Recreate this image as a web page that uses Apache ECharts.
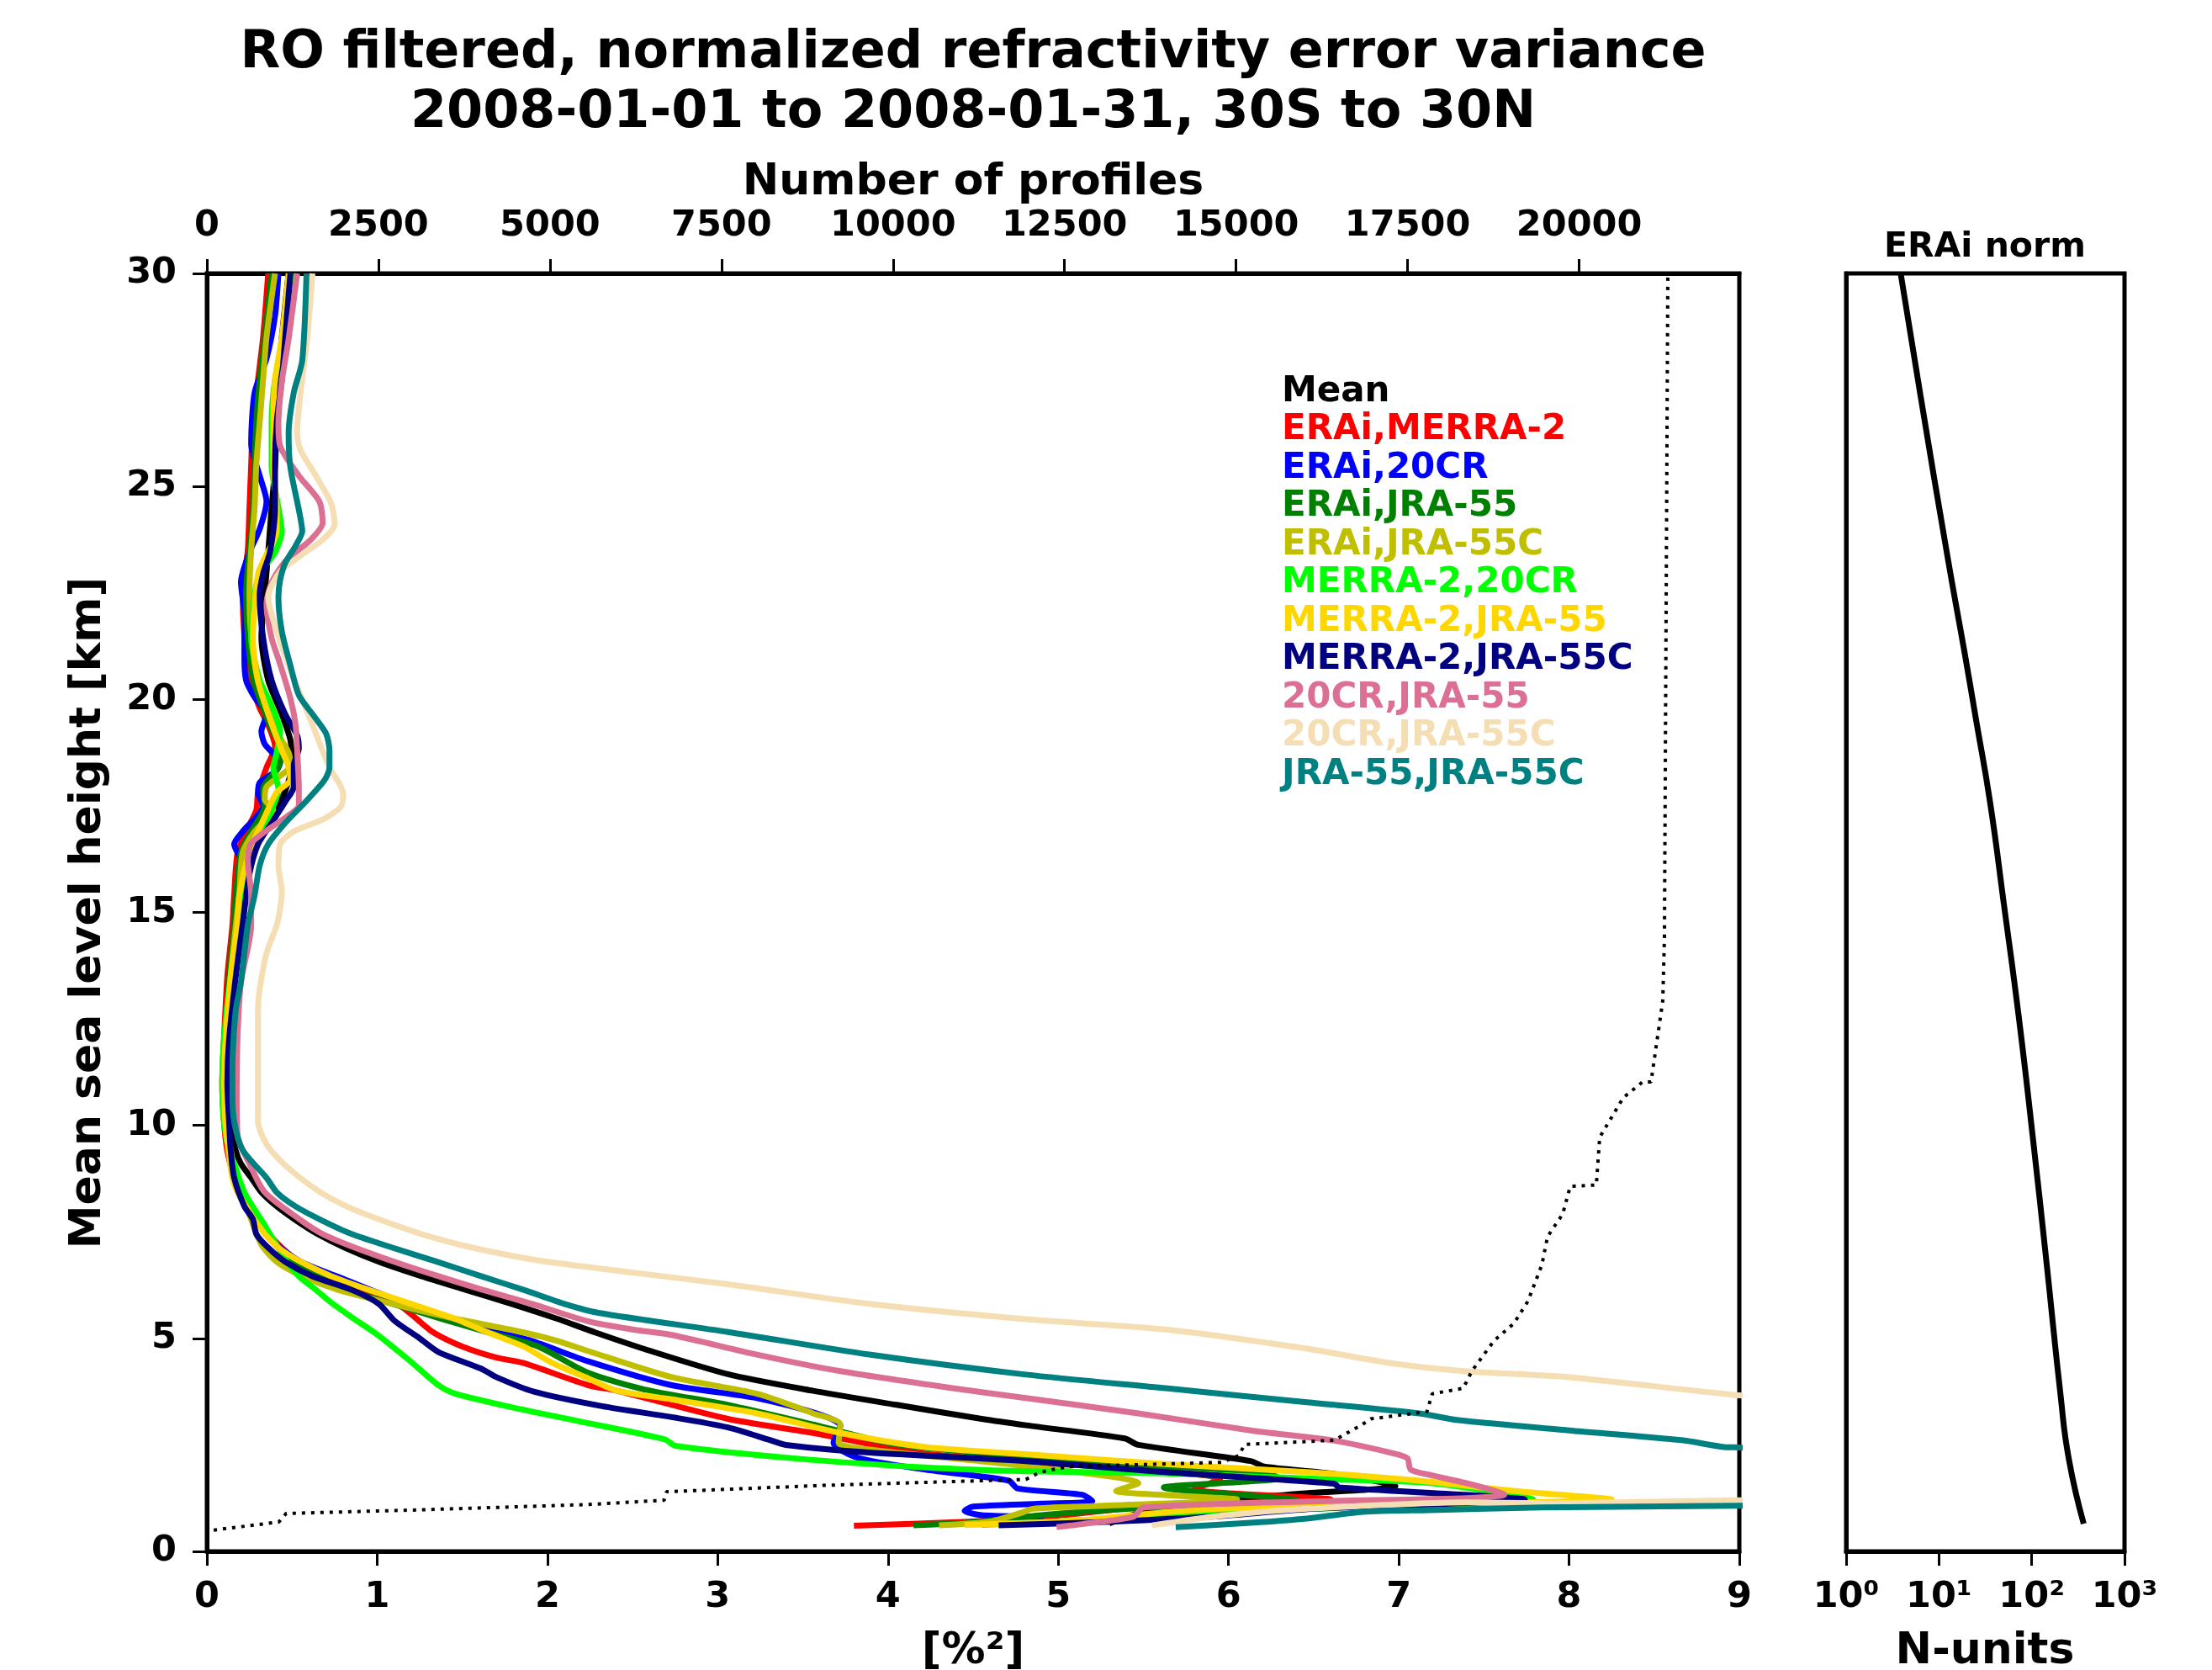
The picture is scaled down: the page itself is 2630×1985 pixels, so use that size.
<!DOCTYPE html>
<html><head><meta charset="utf-8">
<script src="https://cdn.jsdelivr.net/npm/echarts@6/dist/echarts.min.js"></script>
<style>html,body{margin:0;padding:0;background:#fff}#c{width:2630px;height:1985px}</style>
</head><body><div id="c"></div>
<script>
// ---------- DATA ----------
const seriesNames = ['Mean','ERAi,MERRA-2','ERAi,20CR','ERAi,JRA-55','ERAi,JRA-55C','MERRA-2,20CR','MERRA-2,JRA-55','MERRA-2,JRA-55C','20CR,JRA-55','20CR,JRA-55C','JRA-55,JRA-55C'];
const seriesColors = ['#000000','#FF0000','#0000FF','#008000','#BFBF00','#00FF00','#FFD700','#000080','#DB7093','#F5DEB3','#008080'];
const xTicksVar = [0,1,2,3,4,5,6,7,8,9];
const yTicksHeight = [0,5,10,15,20,25,30];
const profileTicks = [0,2500,5000,7500,10000,12500,15000,17500,20000];
const normTicks = [1,10,100,1000];

// each profile: [variance %^2, height km], from top to bottom
const meanProfile = [[0.48,30],[0.44,28.5],[0.42,27.5],[0.41,26.5],[0.40,25.45],[0.38,24.5],[0.36,23.45],[0.34,22.5],[0.32,21.45],[0.36,20.45],[0.44,19.65],[0.49,19.05],[0.50,18.45],[0.46,17.85],[0.41,17.45],[0.33,16.9],[0.26,16.4],[0.22,15.4],[0.20,14.7],[0.16,13.5],[0.14,12],[0.13,11],[0.14,10],[0.17,9.4],[0.20,9.1],[0.26,8.77],[0.32,8.43],[0.41,8.1],[0.52,7.78],[0.65,7.45],[0.81,7.13],[1.01,6.8],[1.26,6.46],[1.52,6.14],[1.79,5.81],[2.05,5.47],[2.28,5.14],[2.57,4.75],[3.06,4.16],[3.56,3.77],[4.05,3.44],[4.55,3.11],[4.81,2.96],[5.39,2.65],[5.47,2.5],[6.13,2.12],[6.21,1.99],[6.62,1.82],[6.98,1.53],[6.4,1.35],[5.6,1.05],[5.45,0.87],[5.3,0.66]];
const eraiMerra2 = [[0.36,30],[0.33,28.5],[0.30,27.5],[0.27,26.5],[0.26,25.5],[0.25,24.5],[0.24,23.5],[0.21,22.5],[0.22,21.5],[0.25,20.5],[0.31,19.8],[0.36,19.4],[0.40,18.9],[0.35,18.4],[0.30,17.8],[0.29,17.4],[0.23,16.9],[0.18,16.4],[0.16,15.4],[0.15,14.7],[0.12,13.5],[0.10,12],[0.09,11],[0.10,10.1],[0.12,9.4],[0.16,8.8],[0.23,8.1],[0.30,7.7],[0.36,7.45],[0.44,7.13],[0.54,6.8],[0.71,6.46],[0.92,6.14],[1.12,5.81],[1.22,5.5],[1.33,5.14],[1.5,4.81],[1.7,4.55],[1.86,4.42],[2.24,3.9],[2.41,3.77],[3.06,3.11],[3.56,2.78],[4.2,2.3],[4.9,2.08],[5.5,1.92],[5.95,1.7],[5.8,1.46],[6.6,1.22],[5.6,1.08],[4.95,0.82],[4.5,0.7],[3.8,0.6]];
const erai20cr = [[0.42,30],[0.40,29],[0.35,28],[0.28,27.2],[0.26,26],[0.31,25.25],[0.35,24.65],[0.31,24],[0.25,23.45],[0.20,22.75],[0.22,22],[0.22,21],[0.23,20.45],[0.28,20.05],[0.35,19.65],[0.32,19.25],[0.34,18.95],[0.43,18.5],[0.40,18.3],[0.31,18.05],[0.30,17.8],[0.33,17.5],[0.21,16.9],[0.16,16.6],[0.20,16.2],[0.19,15.4],[0.17,14.7],[0.14,13.5],[0.12,12],[0.11,11],[0.12,10],[0.14,9.2],[0.19,8.5],[0.27,7.9],[0.38,7.3],[0.55,6.8],[0.80,6.4],[1.05,6.0],[1.32,5.6],[1.6,5.25],[1.9,4.95],[2.24,4.46],[2.73,3.9],[3.23,3.6],[3.61,3.2],[3.72,2.95],[3.68,2.55],[3.82,2.2],[4.22,1.92],[4.71,1.66],[4.76,1.48],[5.14,1.33],[5.2,1.18],[4.9,1.12],[4.5,1.05],[4.45,0.95],[4.55,0.85],[4.9,0.8],[4.6,0.7]];
const eraiJra55 = [[0.38,30],[0.34,28.5],[0.31,27.5],[0.29,26.5],[0.28,25.5],[0.27,24.5],[0.25,23.5],[0.23,22.5],[0.24,21.5],[0.27,20.5],[0.33,19.8],[0.38,19.3],[0.44,18.8],[0.42,18.4],[0.33,17.9],[0.34,17.5],[0.26,16.9],[0.20,16.4],[0.17,15.4],[0.16,14.7],[0.13,13.5],[0.11,12],[0.10,11],[0.11,10],[0.14,9.2],[0.19,8.5],[0.26,7.9],[0.36,7.4],[0.50,6.8],[0.66,6.45],[0.82,6.14],[1.1,5.8],[1.37,5.47],[1.65,5.14],[1.94,4.82],[2.24,4.19],[2.57,3.8],[3.06,3.44],[3.56,2.98],[4.05,2.51],[4.81,2.22],[5.6,2.0],[6.2,1.86],[6.3,1.72],[5.62,1.5],[6.4,1.2],[5.5,1.02],[4.9,0.85],[4.5,0.68],[4.15,0.61]];
const eraiJra55c = [[0.40,30],[0.35,28.5],[0.33,27.5],[0.31,26.5],[0.29,25.5],[0.28,24.5],[0.26,23.5],[0.25,22.5],[0.26,21.5],[0.30,20.45],[0.36,19.85],[0.41,19.25],[0.48,18.75],[0.49,18.45],[0.35,17.95],[0.34,17.65],[0.39,17.4],[0.28,16.9],[0.21,16.4],[0.19,15.4],[0.17,14.7],[0.14,13.5],[0.12,12],[0.11,11],[0.12,10],[0.15,9.2],[0.20,8.5],[0.25,7.9],[0.32,7.2],[0.41,6.8],[0.56,6.46],[0.77,6.14],[1.09,5.81],[1.45,5.47],[1.86,5.14],[2.05,4.95],[2.24,4.7],[2.73,4.09],[3.23,3.7],[3.56,3.24],[3.72,2.98],[3.71,2.55],[3.89,2.39],[4.81,2.0],[5.47,1.6],[5.34,1.42],[6.05,1.22],[5.2,1.06],[4.85,1.0],[4.78,0.9],[4.6,0.7],[4.3,0.61]];
const merra2_20cr = [[0.50,30],[0.45,28.5],[0.40,27.5],[0.38,26.5],[0.38,25.5],[0.42,24.5],[0.44,23.95],[0.40,23.45],[0.31,22.95],[0.28,22.45],[0.26,21.45],[0.31,20.45],[0.38,19.85],[0.43,19.25],[0.41,18.75],[0.39,18.4],[0.42,17.9],[0.38,17.4],[0.33,16.9],[0.26,16.4],[0.21,15.4],[0.19,14.7],[0.14,13.5],[0.10,12],[0.09,11],[0.10,10.1],[0.13,9.4],[0.16,9.1],[0.22,8.43],[0.32,7.78],[0.37,7.45],[0.42,7.13],[0.47,6.8],[0.54,6.46],[0.64,6.14],[0.74,5.81],[0.86,5.47],[0.99,5.12],[1.19,4.48],[1.36,3.9],[1.46,3.7],[1.76,3.41],[2.18,3.06],[2.69,2.63],[2.75,2.48],[3.46,2.18],[4.22,1.97],[4.81,1.88],[5.63,1.83],[6.62,1.69],[7.2,1.6],[7.79,1.22],[6.5,1.0],[5.5,0.8],[4.55,0.62]];
const merra2Jra55 = [[0.48,30],[0.44,28.5],[0.40,27.5],[0.39,26.5],[0.39,25.45],[0.41,24.5],[0.41,23.95],[0.35,23.4],[0.30,22.94],[0.27,21.44],[0.30,20.43],[0.38,19.43],[0.44,18.8],[0.48,18.42],[0.49,18.12],[0.41,17.82],[0.36,17.42],[0.25,16.42],[0.19,15.4],[0.18,14.73],[0.14,13.5],[0.11,12],[0.10,11],[0.11,10],[0.13,9.3],[0.15,8.77],[0.18,8.43],[0.23,8.1],[0.28,7.78],[0.34,7.45],[0.42,7.13],[0.55,6.8],[0.73,6.46],[0.95,6.14],[1.2,5.81],[1.45,5.47],[1.65,5.14],[1.86,4.81],[2.03,4.42],[2.24,4.06],[2.41,3.77],[2.73,3.57],[3.23,3.24],[3.72,2.78],[4.22,2.45],[4.81,2.28],[5.63,2.05],[6.46,1.86],[7.12,1.66],[7.67,1.42],[8.25,1.22],[7.0,1.1],[5.96,1.0],[5.58,0.9],[5.1,0.72],[4.45,0.62]];
const merra2Jra55c = [[0.49,30],[0.46,28.5],[0.44,27.5],[0.41,26.5],[0.40,25.5],[0.40,24.5],[0.37,23.45],[0.33,22.95],[0.31,22.45],[0.33,21.45],[0.38,20.45],[0.46,19.65],[0.53,19.15],[0.54,18.85],[0.51,18.45],[0.51,17.95],[0.46,17.6],[0.38,17.1],[0.30,16.6],[0.25,15.9],[0.21,14.73],[0.17,13.5],[0.13,12],[0.12,11],[0.13,10.1],[0.14,9.4],[0.16,8.77],[0.22,8.1],[0.27,7.8],[0.29,7.45],[0.36,7.13],[0.46,6.8],[0.62,6.46],[0.85,6.14],[1.01,5.81],[1.10,5.42],[1.25,5.0],[1.36,4.68],[1.61,4.29],[1.70,4.09],[1.92,3.75],[2.32,3.41],[2.75,3.14],[3.06,2.91],[3.31,2.61],[3.40,2.5],[3.89,2.32],[4.81,2.12],[5.63,1.86],[6.62,1.59],[6.65,1.5],[7.38,1.33],[7.74,1.22],[6.5,1.0],[5.88,0.81],[5.2,0.68],[4.65,0.61]];
const c20crJra55 = [[0.53,30],[0.48,28.46],[0.44,27.46],[0.42,26.46],[0.43,25.95],[0.54,25.25],[0.66,24.65],[0.68,24.15],[0.61,23.75],[0.46,23.24],[0.38,22.74],[0.35,22.24],[0.38,21.44],[0.43,20.83],[0.49,20.03],[0.52,19.43],[0.53,18.83],[0.54,17.92],[0.54,17.52],[0.46,17.22],[0.35,16.92],[0.26,16.62],[0.24,16.22],[0.26,15.41],[0.26,14.7],[0.20,13.37],[0.18,12.07],[0.175,10.74],[0.18,9.76],[0.25,9.1],[0.34,8.43],[0.55,7.78],[0.68,7.45],[0.87,7.13],[1.10,6.8],[1.36,6.46],[1.62,6.14],[1.91,5.81],[2.24,5.4],[2.5,5.21],[2.73,5.08],[3.23,4.62],[3.72,4.23],[4.38,3.83],[4.81,3.6],[5.47,3.24],[6.13,2.84],[6.62,2.6],[6.95,2.32],[7.05,2.19],[7.07,1.92],[7.2,1.78],[7.45,1.55],[7.62,1.33],[7.4,1.25],[6.46,1.17],[5.5,1.03],[5.44,0.81],[5.14,0.64],[4.99,0.57]];
const c20crJra55c = [[0.62,30],[0.59,28.5],[0.55,27.2],[0.53,26.25],[0.55,25.85],[0.64,25.25],[0.73,24.6],[0.75,24.1],[0.68,23.75],[0.56,23.4],[0.43,23.0],[0.36,22.4],[0.41,21.6],[0.48,20.8],[0.56,20.0],[0.64,19.2],[0.72,18.4],[0.80,17.8],[0.79,17.5],[0.69,17.2],[0.51,16.9],[0.43,16.6],[0.42,16.1],[0.44,15.5],[0.43,15.1],[0.41,14.7],[0.35,14.04],[0.31,13.2],[0.30,12.72],[0.30,11],[0.30,10.41],[0.30,10.09],[0.35,9.56],[0.45,9.1],[0.64,8.5],[0.82,8.1],[1.02,7.78],[1.26,7.45],[1.56,7.13],[1.95,6.83],[2.51,6.54],[3.06,6.27],[3.89,5.81],[4.81,5.45],[5.63,5.21],[6.46,4.76],[6.95,4.42],[7.38,4.23],[8.0,4.09],[8.98,3.67],[10,3.35],[10,1.25],[8.98,1.2],[7.84,1.13],[7.4,1.15],[6.46,1.0],[5.96,0.84],[5.55,0.61]];
const jra55Jra55c = [[0.585,30],[0.56,27.96],[0.51,27.2],[0.48,26.25],[0.49,25.45],[0.54,24.45],[0.56,23.95],[0.52,23.6],[0.46,23.2],[0.43,22.8],[0.42,22.4],[0.44,21.6],[0.49,20.8],[0.54,20.1],[0.63,19.6],[0.70,19.2],[0.72,18.8],[0.72,18.4],[0.69,18.1],[0.58,17.6],[0.46,17.1],[0.36,16.6],[0.31,16.1],[0.28,15.4],[0.24,14.7],[0.22,14.04],[0.20,13.37],[0.17,12.72],[0.157,12.07],[0.15,11.4],[0.15,10.74],[0.16,10.09],[0.21,9.42],[0.35,8.77],[0.41,8.43],[0.52,8.1],[0.67,7.78],[0.85,7.45],[1.09,7.13],[1.35,6.8],[1.61,6.46],[1.86,6.14],[2.1,5.81],[2.3,5.6],[3.06,5.15],[3.89,4.62],[4.81,4.15],[5.63,3.83],[6.46,3.50],[7.12,3.24],[7.35,3.08],[8.0,2.84],[8.66,2.61],[8.91,2.45],[9.0,2.44],[10,2.2],[10,1.1],[8.98,1.07],[7.84,1.03],[7.18,0.97],[6.79,0.93],[6.46,0.77],[6.13,0.67],[5.69,0.57]];
// number of profiles (top axis) vs height
const profileCount = [[99,0.5],[600,0.6],[1048,0.69],[1156,0.89],[3000,0.97],[5560,1.1],[6664,1.2],[6700,1.4],[9000,1.55],[11936,1.69],[12141,1.86],[12549,1.99],[14793,2.09],[15039,2.25],[15125,2.51],[16432,2.61],[16840,2.98],[16963,3.11],[17781,3.28],[17859,3.70],[18312,3.83],[18434,4.23],[18761,4.95],[19048,5.35],[19252,5.87],[19457,6.73],[19539,7.39],[19760,7.92],[19870,8.57],[20250,8.6],[20299,9.72],[20642,10.65],[20924,11.02],[21047,11.02],[21218,12.92],[21243,14.44],[21292,30]];
// ERAi norm (N-units) vs height
const eraiNorm = [[3.87,30],[6.3,27.16],[12.6,23.25],[19,21.07],[25,19.55],[35.5,17.6],[50,15.21],[72,12.6],[102,9.78],[145,6.74],[204,3.69],[251,2.17],[363,0.65]];
const profilesMax = 22334;

const profiles = [meanProfile,eraiMerra2,erai20cr,eraiJra55,eraiJra55c,merra2_20cr,merra2Jra55,merra2Jra55c,c20crJra55,c20crJra55c,jra55Jra55c];

// ---------- CHART ----------
const FONT = '"DejaVu Sans"';
const chart = echarts.init(document.getElementById('c'), null, {renderer:'canvas', width:2630, height:1985});
const lblStyle = {fontSize:43, fontWeight:'bold', fontFamily:'DejaVu Sans', color:'#000'};
const axLine = {show:true, onZero:false, lineStyle:{color:'#000', width:5}};
const axTick = {show:true, length:17, lineStyle:{color:'#000', width:3}};
const supMap = {0:'\u2070',1:'\u00B9',2:'\u00B2',3:'\u00B3'};

const series = profiles.map((d,i)=>({
  name: seriesNames[i], type:'line', xAxisIndex:0, yAxisIndex:0, data:d,
  symbol:'none', showSymbol:false, clip:true, smooth:0.25,
  lineStyle:{color:seriesColors[i], width:7, cap:'butt', join:'round'}, z:2+i
}));
series.push({name:'profiles', type:'line', xAxisIndex:1, yAxisIndex:0, data:profileCount, symbol:'none', clip:true,
  lineStyle:{color:'#000', width:4, type:[4,7], cap:'butt'}, z:20});
series.push({name:'norm', type:'line', xAxisIndex:2, yAxisIndex:1, data:eraiNorm, symbol:'none', clip:true, smooth:true,
  lineStyle:{color:'#000', width:7}, z:2});

const legendGraphics = seriesNames.map((n,i)=>({
  type:'text', x:1524, y:466 + i*45.5,
  style:{text:n, fill:seriesColors[i], font:'bold 42px '+FONT, align:'left', verticalAlign:'middle'}
}));

const option = {
  animation:false,
  backgroundColor:'#fff',
  grid:[
    {left:246, top:325, width:1822, height:1519, show:true, borderColor:'#000', borderWidth:5, backgroundColor:'rgba(0,0,0,0)'},
    {left:2195, top:325, width:331, height:1519, show:true, borderColor:'#000', borderWidth:5, backgroundColor:'rgba(0,0,0,0)'}
  ],
  xAxis:[
    {gridIndex:0, type:'value', position:'bottom', min:xTicksVar[0], max:xTicksVar[xTicksVar.length-1], interval:1,
     axisLine:axLine, axisTick:axTick, splitLine:{show:false}, axisLabel:Object.assign({margin:33}, lblStyle)},
    {gridIndex:0, type:'value', position:'top', min:0, max:profilesMax, interval:2500,
     axisLine:axLine, axisTick:Object.assign({customValues:profileTicks}, axTick), splitLine:{show:false},
     axisLabel:Object.assign({margin:35, customValues:profileTicks, formatter:v=>String(Math.round(v))}, lblStyle)},
    {gridIndex:1, type:'log', logBase:10, min:normTicks[0], max:normTicks[3], position:'bottom',
     axisLine:axLine, axisTick:axTick, splitLine:{show:false}, minorTick:{show:false},
     axisLabel:Object.assign({margin:33, formatter:v=>'10'+supMap[Math.round(Math.log10(v))]}, lblStyle)}
  ],
  yAxis:[
    {gridIndex:0, type:'value', min:0, max:30, interval:5, axisLine:axLine, axisTick:axTick, splitLine:{show:false},
     axisLabel:Object.assign({margin:36, formatter:v=>String(v)}, lblStyle)},
    {gridIndex:1, type:'value', min:0, max:30, interval:5, axisLine:axLine, axisTick:{show:false}, axisLabel:{show:false}, splitLine:{show:false}}
  ],
  graphic:[
    {type:'text', x:1157, y:64, style:{text:'RO filtered, normalized refractivity error variance', fill:'#000', font:'bold 62px '+FONT, align:'center', verticalAlign:'middle'}},
    {type:'text', x:1157, y:135, style:{text:'2008-01-01 to 2008-01-31, 30S to 30N', fill:'#000', font:'bold 62px '+FONT, align:'center', verticalAlign:'middle'}},
    {type:'text', x:1157, y:217, style:{text:'Number of profiles', fill:'#000', font:'bold 52px '+FONT, align:'center', verticalAlign:'middle'}},
    {type:'text', x:105, y:1085, rotation:Math.PI/2, style:{text:'Mean sea level height [km]', fill:'#000', font:'bold 52px '+FONT, align:'center', verticalAlign:'middle'}},
    {type:'text', x:1157, y:1963, style:{text:'[%\u00B2]', fill:'#000', font:'bold 52px '+FONT, align:'center', verticalAlign:'middle'}},
    {type:'text', x:2360, y:1963, style:{text:'N-units', fill:'#000', font:'bold 52px '+FONT, align:'center', verticalAlign:'middle'}},
    {type:'text', x:2360, y:294, style:{text:'ERAi norm', fill:'#000', font:'bold 41px '+FONT, align:'center', verticalAlign:'middle'}}
  ].concat(legendGraphics),
  series: series
};
chart.setOption(option);
</script>
</body></html>
